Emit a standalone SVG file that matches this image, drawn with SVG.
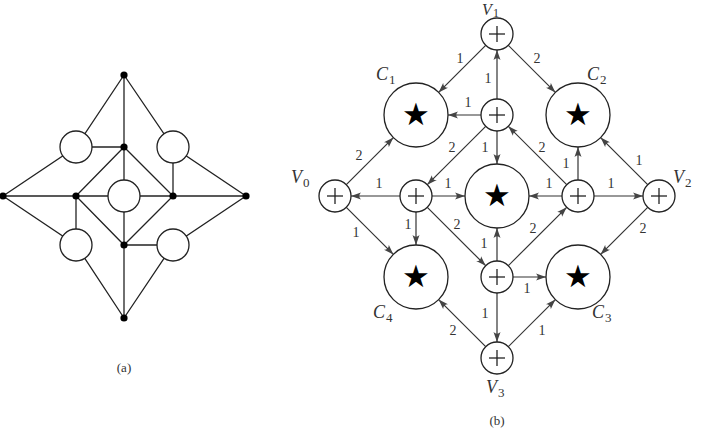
<svg xmlns="http://www.w3.org/2000/svg" width="705" height="444" viewBox="0 0 705 444">
<style>
.ln{stroke:#222;stroke-width:1.3;fill:none}
.nd{stroke:#222;stroke-width:1.3;fill:#fff}
.dot{fill:#000}
.e{stroke:#333;stroke-width:1.2;fill:none;marker-end:url(#arr)}
.pl{stroke:#222;stroke-width:1.3}
.lb{font-family:'Liberation Serif',serif;font-size:14px;fill:#333;text-anchor:middle}
.nm{font-family:'Liberation Serif',serif;font-style:italic;font-size:18px;fill:#333}
.sb{font-family:'Liberation Serif',serif;font-size:13px;fill:#333}
.st{font-family:'DejaVu Sans',sans-serif;font-size:31px;fill:#000;text-anchor:middle}
.cap{font-family:'Liberation Serif',serif;font-size:13px;fill:#333;text-anchor:middle}
</style>
<defs>
<marker id="arr" markerWidth="10" markerHeight="8" refX="10" refY="4" orient="auto" markerUnits="userSpaceOnUse">
<path d="M10,4 L0,0.5 Q3.5,4 0,7.5 Z" fill="#444"/>
</marker>
<g id="plus"><circle r="16" class="nd"/><line x1="-8" y1="0" x2="8" y2="0" class="pl"/><line x1="0" y1="-8" x2="0" y2="8" class="pl"/></g>
<g id="star"><circle r="32" class="nd"/><text class="st" y="10">★</text></g>
</defs>

<!-- (a) -->
<g id="a-edges">
<line class="ln" x1="124" y1="75" x2="124" y2="318"/>
<line class="ln" x1="3" y1="196" x2="246" y2="196"/>
<polyline class="ln" points="124,75 76,147 3,196"/>
<polyline class="ln" points="124,75 173,147 246,196"/>
<polyline class="ln" points="3,196 76,245 124,318"/>
<polyline class="ln" points="246,196 173,245 124,318"/>
<line class="ln" x1="76" y1="147" x2="124" y2="147"/>
<line class="ln" x1="173" y1="147" x2="173" y2="196"/>
<line class="ln" x1="76" y1="245" x2="76" y2="196"/>
<line class="ln" x1="173" y1="245" x2="124" y2="245"/>
<polygon class="ln" points="124,147 76,196 124,245 173,196"/>
</g>
<g id="a-nodes">
<circle class="nd" cx="124" cy="196" r="16"/>
<circle class="nd" cx="76" cy="147" r="16"/>
<circle class="nd" cx="173" cy="147" r="16"/>
<circle class="nd" cx="76" cy="245" r="16"/>
<circle class="nd" cx="173" cy="245" r="16"/>
<circle class="dot" cx="124" cy="75" r="3.6"/>
<circle class="dot" cx="3" cy="196" r="3.6"/>
<circle class="dot" cx="246" cy="196" r="3.6"/>
<circle class="dot" cx="124" cy="318" r="3.6"/>
<circle class="dot" cx="124" cy="147" r="3.6"/>
<circle class="dot" cx="76" cy="196" r="3.6"/>
<circle class="dot" cx="173" cy="196" r="3.6"/>
<circle class="dot" cx="124" cy="245" r="3.6"/>
</g>
<text class="cap" x="124" y="372">(a)</text>

<!-- (b) connectors -->
<g id="connectors">
<line class="e" x1="485.7" y1="45.3" x2="438.6" y2="92.4"/>
<line class="e" x1="508.3" y1="45.3" x2="555.4" y2="92.4"/>
<line class="e" x1="497" y1="99" x2="497" y2="50"/>
<line class="e" x1="481" y1="115" x2="448" y2="115"/>
<line class="e" x1="485.7" y1="126.3" x2="427.3" y2="184.7"/>
<line class="e" x1="497" y1="131" x2="497" y2="164"/>
<line class="e" x1="566.7" y1="184.7" x2="508.3" y2="126.3"/>
<line class="e" x1="578" y1="180" x2="578" y2="147"/>
<line class="e" x1="647.7" y1="184.7" x2="600.6" y2="137.6"/>
<line class="e" x1="400" y1="196" x2="351" y2="196"/>
<line class="e" x1="346.3" y1="184.7" x2="393.4" y2="137.6"/>
<line class="e" x1="432" y1="196" x2="465" y2="196"/>
<line class="e" x1="562" y1="196" x2="529" y2="196"/>
<line class="e" x1="594" y1="196" x2="643" y2="196"/>
<line class="e" x1="346.3" y1="207.3" x2="393.4" y2="254.4"/>
<line class="e" x1="416" y1="212" x2="416" y2="245"/>
<line class="e" x1="427.3" y1="207.3" x2="485.7" y2="265.7"/>
<line class="e" x1="497" y1="261" x2="497" y2="228"/>
<line class="e" x1="508.3" y1="265.7" x2="566.7" y2="207.3"/>
<line class="e" x1="647.7" y1="207.3" x2="600.6" y2="254.4"/>
<line class="e" x1="513" y1="277" x2="546" y2="277"/>
<line class="e" x1="497" y1="293" x2="497" y2="342"/>
<line class="e" x1="485.7" y1="346.7" x2="438.6" y2="299.6"/>
<line class="e" x1="508.3" y1="346.7" x2="555.4" y2="299.6"/>
</g>
<g id="edge-labels">
<text class="lb" x="460" y="63">1</text>
<text class="lb" x="537" y="63">2</text>
<text class="lb" x="488" y="83">1</text>
<text class="lb" x="468" y="107">1</text>
<text class="lb" x="452" y="152">2</text>
<text class="lb" x="485" y="152">1</text>
<text class="lb" x="542" y="152">2</text>
<text class="lb" x="566" y="168">1</text>
<text class="lb" x="639" y="165">1</text>
<text class="lb" x="359" y="160">2</text>
<text class="lb" x="379" y="188">1</text>
<text class="lb" x="448" y="188">1</text>
<text class="lb" x="549" y="188">1</text>
<text class="lb" x="611" y="188">1</text>
<text class="lb" x="356" y="237">1</text>
<text class="lb" x="408" y="229">1</text>
<text class="lb" x="457" y="229">2</text>
<text class="lb" x="484" y="248">1</text>
<text class="lb" x="533" y="233">2</text>
<text class="lb" x="643" y="233">2</text>
<text class="lb" x="527" y="293">1</text>
<text class="lb" x="485" y="318">1</text>
<text class="lb" x="453" y="335">2</text>
<text class="lb" x="542" y="335">1</text>
</g>

<!-- (b) nodes -->
<g id="V1"><use href="#plus" x="497" y="34"/><text class="nm" x="482" y="15" style="font-size:16px">V</text><text class="sb" x="493" y="17" style="font-size:12px">1</text></g>
<g id="T"><use href="#plus" x="497" y="115"/></g>
<g id="V0"><use href="#plus" x="335" y="196"/><text class="nm" x="291" y="183">V</text><text class="sb" x="303" y="187">0</text></g>
<g id="L"><use href="#plus" x="416" y="196"/></g>
<g id="M"><use href="#star" x="497" y="196"/></g>
<g id="R"><use href="#plus" x="578" y="196"/></g>
<g id="V2"><use href="#plus" x="659" y="196"/><text class="nm" x="673" y="183">V</text><text class="sb" x="685" y="187">2</text></g>
<g id="B"><use href="#plus" x="497" y="277"/></g>
<g id="V3"><use href="#plus" x="497" y="358"/><text class="nm" x="486" y="393">V</text><text class="sb" x="498" y="397">3</text></g>
<g id="C1"><use href="#star" x="416" y="115"/><text class="nm" x="376" y="80">C</text><text class="sb" x="389" y="84">1</text></g>
<g id="C2"><use href="#star" x="578" y="115"/><text class="nm" x="587" y="80">C</text><text class="sb" x="600" y="84">2</text></g>
<g id="C4"><use href="#star" x="416" y="277"/><text class="nm" x="373" y="318">C</text><text class="sb" x="386" y="322">4</text></g>
<g id="C3"><use href="#star" x="578" y="277"/><text class="nm" x="592" y="318">C</text><text class="sb" x="605" y="322">3</text></g>
<text class="cap" x="497" y="425">(b)</text>
</svg>
